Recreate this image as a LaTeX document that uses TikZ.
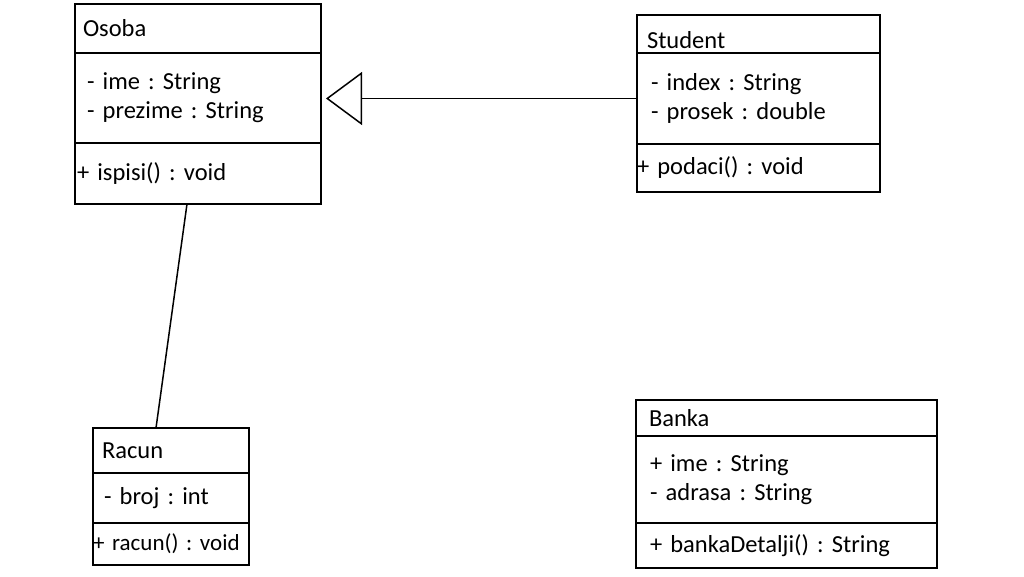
\documentclass[tikz,border=0pt]{standalone}
\usepackage{fontspec}
\setmainfont{Carlito}
\usepackage{tikz}
\usetikzlibrary{positioning,arrows.meta}

\tikzset{
  compartment/.style={draw, line width=1.5pt, outer sep=0pt, inner ysep=0pt,
    align=left, font=\fontsize{24.5}{29}\selectfont\frenchspacing},
  link/.style={line width=1.5pt},
}

\begin{document}
\begin{tikzpicture}[x=1pt, y=-1pt]
  \useasboundingbox (0,0) rectangle (1024,576);

  % Osoba
  \node (osobaName) [compartment, anchor=north west, inner xsep=8pt, text width=230pt, minimum height=49pt] at (75,4) {Osoba};
  \node (osobaAttr) [compartment, below=0pt of osobaName, inner xsep=12pt, text width=222pt, minimum height=90pt] {- ime : String\\- prezime : String};
  \node (osobaOps) [compartment, below=0pt of osobaAttr, inner xsep=2pt, text width=242pt, minimum height=61pt] {+ ispisi() : void};

  % Student
  \node (studentName) [compartment, anchor=north west, inner xsep=10pt, text width=223pt, minimum height=38pt, text height=28pt, text depth=0pt] at (637,15) {Student};
  \node (studentAttr) [compartment, below=0pt of studentName, inner xsep=14pt, text width=215pt, minimum height=91pt] {- index : String\\- prosek : double};
  \node (studentOps) [compartment, below=0pt of studentAttr, inner xsep=0pt, text width=243pt, minimum height=48pt] {+ podaci() : void};

  % Racun
  \node (racunName) [compartment, anchor=north west, inner xsep=9pt, text width=138pt, minimum height=45pt] at (93,428) {Racun};
  \node (racunAttr) [compartment, below=0pt of racunName, inner xsep=11pt, text width=134pt, minimum height=50pt] {- broj : int};
  \node (racunOps) [compartment, below=0pt of racunAttr, inner xsep=0pt, text width=156pt, minimum height=42pt, font=\fontsize{23}{29}\selectfont\frenchspacing] {+ racun() : void};

  % Banka
  \node (bankaName) [compartment, anchor=north west, inner xsep=13pt, text width=275pt, minimum height=36pt] at (636,400) {Banka};
  \node (bankaAttr) [compartment, below=0pt of bankaName, inner xsep=14pt, text width=273pt, minimum height=87pt] {+ ime : String\\- adrasa : String};
  \node (bankaOps) [compartment, below=0pt of bankaAttr, inner xsep=14pt, text width=273pt, minimum height=45pt] {+ bankaDetalji() : String};

  \draw[link, -{Triangle[open, length=36pt, width=53pt]}, shorten >=5pt] (studentAttr.west) -- (studentAttr.west -| osobaAttr.east);
  \draw[link] ([xshift=-11pt]osobaOps.south) -- ([xshift=-15pt]racunName.north);
\end{tikzpicture}
\end{document}
